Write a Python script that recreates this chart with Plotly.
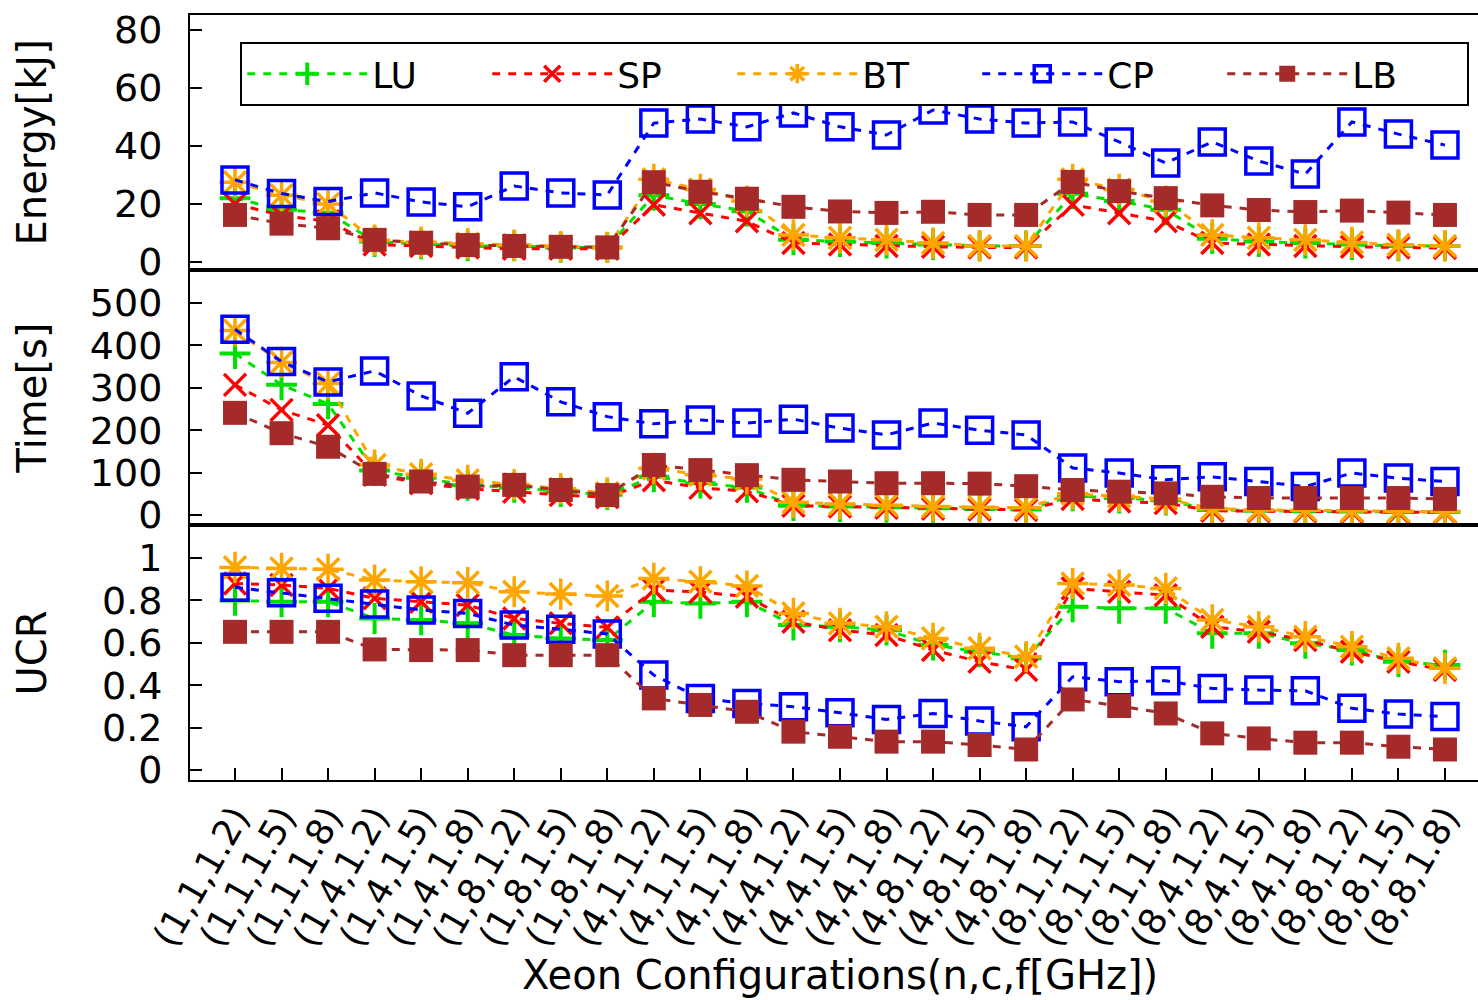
import plotly.graph_objects as go
from plotly.subplots import make_subplots

# Xeon configurations (n, c, f[GHz])
configs = ["(1,1,1.2)", "(1,1,1.5)", "(1,1,1.8)", "(1,4,1.2)", "(1,4,1.5)", "(1,4,1.8)",
           "(1,8,1.2)", "(1,8,1.5)", "(1,8,1.8)", "(4,1,1.2)", "(4,1,1.5)", "(4,1,1.8)",
           "(4,4,1.2)", "(4,4,1.5)", "(4,4,1.8)", "(4,8,1.2)", "(4,8,1.5)", "(4,8,1.8)",
           "(8,1,1.2)", "(8,1,1.5)", "(8,1,1.8)", "(8,4,1.2)", "(8,4,1.5)", "(8,4,1.8)",
           "(8,8,1.2)", "(8,8,1.5)", "(8,8,1.8)"]

# Energy [kJ]
energy_lu = [22, 18, 17, 7, 6.2, 5.5, 5.5, 5, 5, 23, 20, 17.5, 7.6, 7, 6.5, 6, 5.5, 5.5,
             23.5, 21, 18, 8, 7, 6.5, 6, 5.5, 5.5]
energy_sp = [20, 16, 14, 6, 5.5, 5, 4.5, 4.5, 4.5, 19.7, 16.8, 14, 6.5, 6, 5.5, 5.2, 5, 5,
             19.7, 16.8, 14, 6.5, 6, 5.5, 5.2, 5, 4.8]
energy_bt = [27.5, 23, 20, 7.5, 6.8, 6.3, 5.8, 5.3, 5, 28.5, 25, 21, 9.3, 8.3, 7.6, 6.5, 5.5, 5.5,
             28.5, 25, 21, 9.3, 8.3, 7.6, 6.7, 5.9, 5.5]
energy_cp = [28.3, 23.6, 20.8, 23.8, 20.7, 19, 26.2, 23.8, 23.1, 47.9, 49.3, 46.6, 51.4, 46.6,
             43.8, 52.4, 49.3, 47.9, 48.3, 41.4, 34.1, 41.4, 34.8, 30.3, 48.3, 44.1, 40.3]
energy_lb = [16.2, 13.2, 11.6, 7.6, 6.6, 5.8, 5.5, 5.2, 5.0, 27.5, 24.2, 21.8, 19, 17.4, 16.9,
             17.3, 16.2, 16.2, 27.6, 24.4, 22.0, 19.5, 17.9, 17.2, 17.7, 17.0, 16.2]

# Time [s]
time_lu = [381, 307, 262, 105, 88, 70, 65, 55, 48, 90, 75, 65, 22, 20, 18, 16, 14, 13,
           45, 40, 35, 12, 10, 9, 8, 7, 7]
time_sp = [307, 248, 212, 95, 75, 62, 55, 47, 42, 82, 64, 56, 22, 20, 17, 15, 13, 12,
           38, 32, 28, 10, 9, 8, 7, 6, 6]
time_bt = [435, 360, 310, 118, 96, 82, 72, 62, 52, 110, 95, 85, 30, 26, 23, 20, 18, 17,
           50, 44, 38, 15, 12, 11, 10, 9, 8]
time_cp = [438, 362, 314, 340, 281, 240, 326, 267, 232, 215, 224, 217, 226, 205, 189, 217, 200,
           189, 111, 99, 83, 90, 79, 67, 99, 87, 79]
time_lb = [241, 193, 161, 97, 79, 67, 71, 59, 47, 118, 106, 94, 83, 79, 75, 75, 74, 68,
           59, 55, 51, 43, 40, 40, 40, 40, 38]

# UCR
ucr_lu = [0.80, 0.794, 0.794, 0.715, 0.708, 0.692, 0.637, 0.621, 0.613, 0.794, 0.786, 0.794,
          0.684, 0.676, 0.66, 0.59, 0.558, 0.527, 0.77, 0.763, 0.763, 0.645, 0.645, 0.598,
          0.566, 0.511, 0.495]
ucr_sp = [0.88, 0.873, 0.857, 0.81, 0.794, 0.778, 0.715, 0.692, 0.673, 0.849, 0.84, 0.818,
          0.70, 0.66, 0.637, 0.566, 0.511, 0.472, 0.857, 0.841, 0.825, 0.676, 0.652, 0.613,
          0.558, 0.511, 0.472]
ucr_bt = [0.956, 0.951, 0.947, 0.896, 0.888, 0.884, 0.841, 0.83, 0.821, 0.904, 0.888, 0.868,
          0.739, 0.692, 0.676, 0.621, 0.574, 0.535, 0.88, 0.873, 0.857, 0.708, 0.676, 0.629,
          0.582, 0.527, 0.48]
ucr_cp = [0.862, 0.836, 0.81, 0.783, 0.755, 0.739, 0.684, 0.664, 0.642, 0.448, 0.338, 0.314,
          0.299, 0.27, 0.239, 0.267, 0.231, 0.204, 0.44, 0.417, 0.421, 0.385, 0.377, 0.374,
          0.291, 0.264, 0.252]
ucr_lb = [0.652, 0.652, 0.652, 0.569, 0.566, 0.566, 0.542, 0.542, 0.542, 0.338, 0.307, 0.275,
          0.181, 0.157, 0.134, 0.134, 0.118, 0.097, 0.333, 0.302, 0.267, 0.173, 0.149, 0.129,
          0.129, 0.11, 0.097]

x = list(range(len(configs)))
FONT = "DejaVu Sans, Liberation Sans, Arial, sans-serif"

styles = {
    "LU": dict(color="#00E000", symbol="cross-thin", size=22, lw=4),
    "SP": dict(color="#FF0000", symbol="x-thin", size=22, lw=3.5),
    "BT": dict(color="#FFA500", symbol="asterisk-open", size=26, lw=3.5),
    "CP": dict(color="#0000FF", symbol="square-open", size=26, lw=3.5),
    "LB": dict(color="#A52A2A", symbol="square", size=24, lw=0),
}

panels = [
    {"LU": energy_lu, "SP": energy_sp, "BT": energy_bt, "CP": energy_cp, "LB": energy_lb},
    {"LU": time_lu, "SP": time_sp, "BT": time_bt, "CP": time_cp, "LB": time_lb},
    {"LU": ucr_lu, "SP": ucr_sp, "BT": ucr_bt, "CP": ucr_cp, "LB": ucr_lb},
]

fig = make_subplots(rows=3, cols=1, shared_xaxes=True, vertical_spacing=0)

for r, data in enumerate(panels, start=1):
    for name, st in styles.items():
        fig.add_trace(go.Scatter(
            x=x, y=data[name], name=name, mode="lines+markers",
            showlegend=(r == 1),
            line=dict(color=st["color"], width=3, dash="8px,8px"),
            marker=dict(symbol=st["symbol"], size=st["size"], color=st["color"],
                        line=dict(color=st["color"], width=st["lw"])),
        ), row=r, col=1)

axis_common = dict(showline=True, linecolor="black", linewidth=2, showgrid=False,
                   zeroline=False, ticks="inside", ticklen=12, tickwidth=1.5,
                   tickcolor="black", ticklabelstandoff=18,
                   tickfont=dict(family=FONT, size=38, color="black"))

fig.update_yaxes(range=[-2.8, 85.2], tickvals=[0, 20, 40, 60, 80], row=1, col=1, **axis_common)
fig.update_yaxes(range=[-23.6, 578], tickvals=[0, 100, 200, 300, 400, 500], row=2, col=1, **axis_common)
fig.update_yaxes(range=[-0.047, 1.156], tickvals=[0, 0.2, 0.4, 0.6, 0.8, 1],
                 ticktext=["0", "0.2", "0.4", "0.6", "0.8", "1"], row=3, col=1, **axis_common)

for r in (1, 2):
    fig.update_xaxes(range=[-0.967, 26.71], showline=True, linecolor="black", linewidth=2,
                     mirror=True, showgrid=False, zeroline=False, ticks="",
                     showticklabels=False, row=r, col=1)
fig.update_xaxes(range=[-0.967, 26.71], showline=True, linecolor="black", linewidth=2,
                 mirror=True, showgrid=False, zeroline=False, ticks="inside", ticklen=12,
                 tickwidth=1.5, tickcolor="black", tickvals=x, ticktext=configs,
                 tickangle=-60, showticklabels=True,
                 tickfont=dict(family=FONT, size=36, color="black"), row=3, col=1)

titles = [("Energy[kJ]", 1), ("Time[s]", 2), ("UCR", 3)]
for text, r in titles:
    yref = "y domain" if r == 1 else f"y{r} domain"
    fig.add_annotation(text=text, xref="paper", yref=yref, x=-0.1227, y=0.5,
                       xanchor="center", yanchor="middle",
                       showarrow=False, textangle=-90,
                       font=dict(family=FONT, size=40, color="black"))

fig.add_annotation(text="Xeon Configurations(n,c,f[GHz])", xref="paper", yref="paper",
                   x=0.505, y=-0.255, xanchor="center", yanchor="middle", showarrow=False,
                   font=dict(family=FONT, size=40, color="black"))

fig.update_layout(
    width=1478, height=1000,
    margin=dict(l=190, r=0, t=15, b=220),
    paper_bgcolor="white", plot_bgcolor="white",
    font=dict(family=FONT, color="black"),
    legend=dict(orientation="h", x=0.039, y=0.965, xanchor="left", yanchor="top",
                bgcolor="white", bordercolor="black", borderwidth=2,
                font=dict(family=FONT, size=36, color="black"),
                entrywidth=110, entrywidthmode="pixels", itemwidth=120,
                tracegroupgap=0),
    showlegend=True,
)

fig.write_html("out.html")
